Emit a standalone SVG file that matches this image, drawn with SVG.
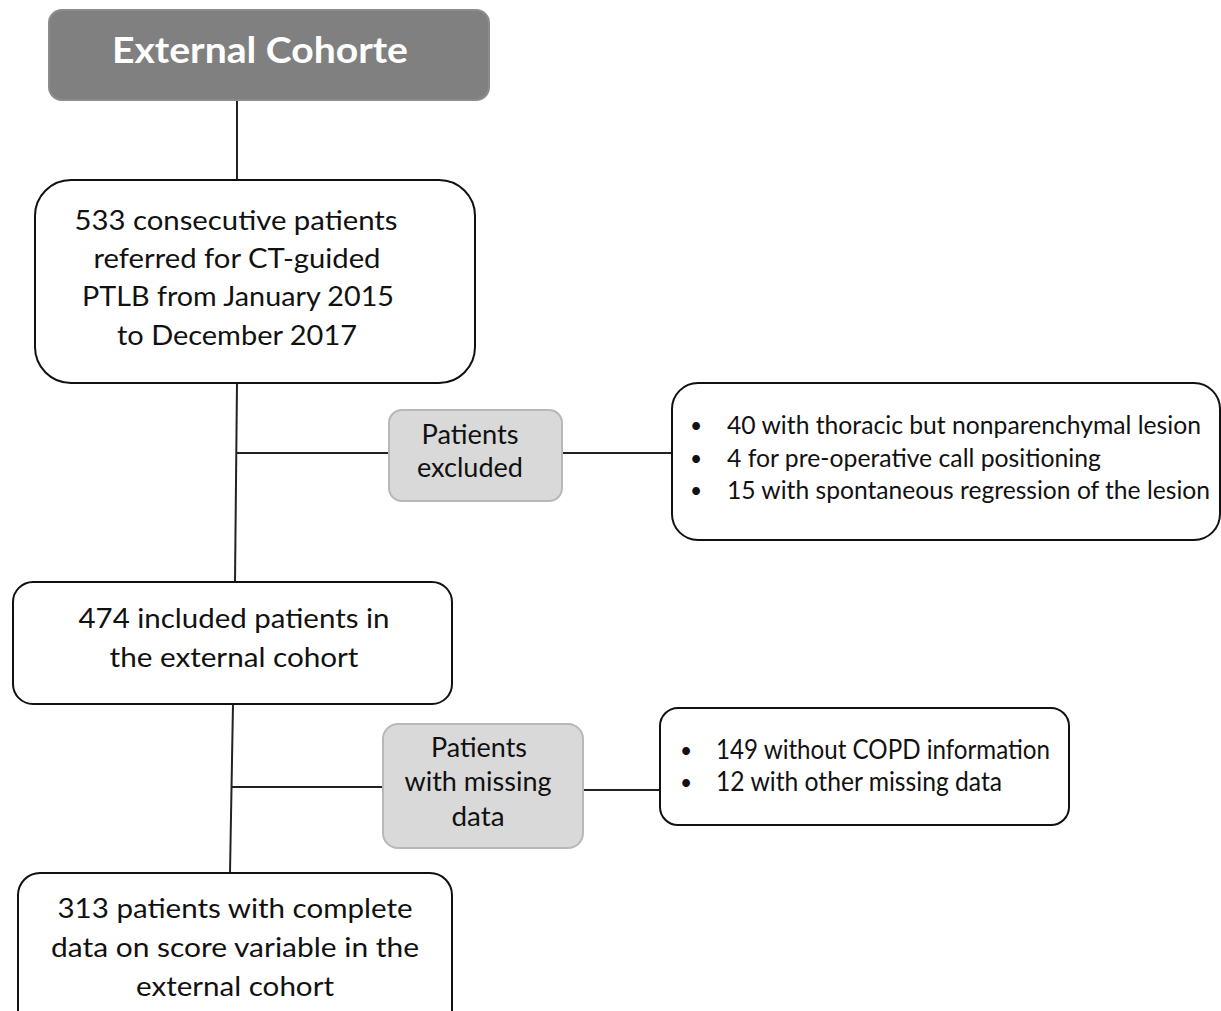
<svg xmlns="http://www.w3.org/2000/svg" width="1221" height="1011" viewBox="0 0 1221 1011">
<style>
.box{fill:#ffffff;stroke:#111111;stroke-width:2}
.grey{fill:#d9d9d9;stroke:#b8b8b8;stroke-width:2}
.t{font-family:Lato,"Open Sans","Liberation Sans",sans-serif;font-size:26px;fill:#111111}
.s{font-size:25px}
.b{font-family:Lato,"Open Sans","Liberation Sans",sans-serif;font-size:21px;fill:#111111}
.c{text-anchor:middle}
.hdr{font-family:Lato,"Open Sans","Liberation Sans",sans-serif;font-size:36px;font-weight:bold;fill:#ffffff;text-anchor:middle}
.ln{stroke:#222222;stroke-width:2;fill:none}
</style>
<rect width="1221" height="1011" fill="#ffffff"/>
<g id="connectors">
<line class="ln" x1="237" y1="100" x2="237" y2="180"/>
<line class="ln" x1="237" y1="383" x2="235" y2="582"/>
<line class="ln" x1="236" y1="453" x2="390" y2="453"/>
<line class="ln" x1="562" y1="453" x2="672" y2="453"/>
<line class="ln" x1="233" y1="704" x2="230" y2="873"/>
<line class="ln" x1="232" y1="787" x2="383" y2="787"/>
<line class="ln" x1="583" y1="790" x2="660" y2="790"/>
</g>
<g id="header">
<rect x="49" y="10" width="440" height="90" rx="13" fill="#808080" stroke="#8c8c8c" stroke-width="2"/>
<text class="hdr" x="260" y="63" textLength="296" lengthAdjust="spacingAndGlyphs">External Cohorte</text>
</g>
<g id="n533">
<rect class="box" x="35" y="180" width="440" height="203" rx="36"/>
<text class="t c" x="236" y="230" textLength="323" lengthAdjust="spacingAndGlyphs">533 consecutive patients</text>
<text class="t c" x="237" y="268" textLength="287" lengthAdjust="spacingAndGlyphs">referred for CT-guided</text>
<text class="t c" x="238" y="306" textLength="312" lengthAdjust="spacingAndGlyphs">PTLB from January 2015</text>
<text class="t c" x="237" y="345" textLength="240" lengthAdjust="spacingAndGlyphs">to December 2017</text>
</g>
<g id="excluded">
<rect class="grey" x="389" y="410" width="173" height="91" rx="13"/>
<text class="t c" x="470" y="444" textLength="97" lengthAdjust="spacingAndGlyphs">Patients</text>
<text class="t c" x="470" y="477" textLength="106" lengthAdjust="spacingAndGlyphs">excluded</text>
</g>
<g id="excludedList">
<rect class="box" x="672" y="383" width="548" height="157" rx="26"/>
<text class="b" x="690" y="433">•</text>
<text class="t s" x="727" y="434" textLength="474" lengthAdjust="spacingAndGlyphs">40 with thoracic but nonparenchymal lesion</text>
<text class="b" x="690" y="466">•</text>
<text class="t s" x="727" y="467" textLength="374" lengthAdjust="spacingAndGlyphs">4 for pre-operative call positioning</text>
<text class="b" x="690" y="498">•</text>
<text class="t s" x="727" y="499" textLength="483" lengthAdjust="spacingAndGlyphs">15 with spontaneous regression of the lesion</text>
</g>
<g id="n474">
<rect class="box" x="13" y="582" width="439" height="122" rx="20"/>
<text class="t c" x="234" y="628" textLength="311" lengthAdjust="spacingAndGlyphs">474 included patients in</text>
<text class="t c" x="234" y="667" textLength="249" lengthAdjust="spacingAndGlyphs">the external cohort</text>
</g>
<g id="missing">
<rect class="grey" x="383" y="724" width="200" height="124" rx="15"/>
<text class="t c" x="479" y="757" textLength="96" lengthAdjust="spacingAndGlyphs">Patients</text>
<text class="t c" x="478" y="791" textLength="147" lengthAdjust="spacingAndGlyphs">with missing</text>
<text class="t c" x="478" y="826" textLength="53" lengthAdjust="spacingAndGlyphs">data</text>
</g>
<g id="missingList">
<rect class="box" x="660" y="708" width="409" height="117" rx="18"/>
<text class="b" x="680" y="758">•</text>
<text class="t" x="716" y="759" textLength="334" lengthAdjust="spacingAndGlyphs">149 without COPD information</text>
<text class="b" x="680" y="790">•</text>
<text class="t" x="716" y="791" textLength="286" lengthAdjust="spacingAndGlyphs">12 with other missing data</text>
</g>
<g id="n313">
<rect class="box" x="18" y="873" width="434" height="160" rx="22"/>
<text class="t c" x="235" y="918" textLength="355" lengthAdjust="spacingAndGlyphs">313 patients with complete</text>
<text class="t c" x="235" y="957" textLength="368" lengthAdjust="spacingAndGlyphs">data on score variable in the</text>
<text class="t c" x="235" y="996" textLength="198" lengthAdjust="spacingAndGlyphs">external cohort</text>
</g>
</svg>
